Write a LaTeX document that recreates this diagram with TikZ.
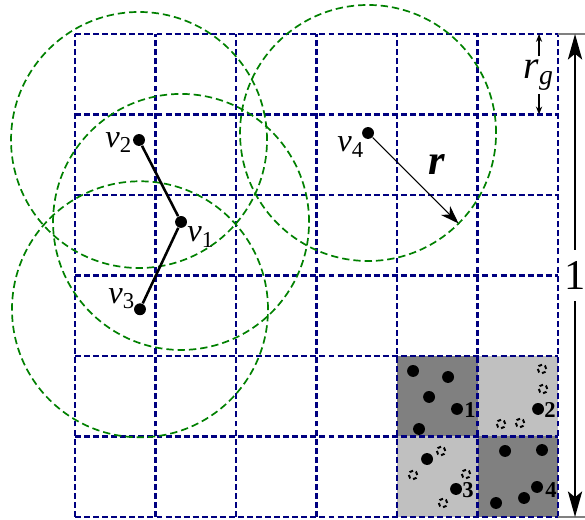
\documentclass[tikz,border=0pt]{standalone}
\usepackage{fontspec}
\setmainfont{Liberation Serif}
\usetikzlibrary{arrows.meta}
\definecolor{GridNavy}{RGB}{0, 0, 128}
\definecolor{RangeGreen}{RGB}{0, 128, 0}
\definecolor{CellDark}{RGB}{128, 128, 128}
\definecolor{CellLight}{RGB}{192, 192, 192}

\begin{document}
\begin{tikzpicture}[
    gridline/.style={GridNavy, line width=0.8pt, dash pattern=on 2.1pt off 1.1pt},
    rangecircle/.style={RangeGreen, line width=0.6pt, dash pattern=on 2.6pt off 1.4pt},
    sensor/.style={circle, fill=black, inner sep=0pt, minimum size=4.2pt},
    ghost/.style={circle, draw=black, line width=0.7pt, dash pattern=on 1.3pt off 1pt, inner sep=0pt, minimum size=3pt},
    link/.style={line width=0.9pt},
    vlabel/.style={font=\fontsize{11.5}{13}\selectfont, inner sep=0pt},
    celllabel/.style={font=\fontsize{8}{9}\selectfont\bfseries, inner sep=0pt},
    dimarrow/.style={-{Stealth[length=2.8pt, width=2.2pt]}, line width=0.4pt},
    bigarrow/.style={-{Stealth[length=9pt, width=5pt, inset=2pt]}, line width=0.9pt},
  ]
  \useasboundingbox (-0.932,-0.037) rectangle (6.335,6.422);

  % Shaded cells
  \fill[CellDark] (4,1) rectangle (5,2);
  \fill[CellLight] (5,1) rectangle (6,2);
  \fill[CellLight] (4,0) rectangle (5,1);
  \fill[CellDark] (5,0) rectangle (6,1);

  % Grid
  \foreach \i in {0,...,6} {
    \draw[gridline] (\i,0) -- (\i,6);
    \draw[gridline] (0,\i) -- (6,\i);
  }

  % Nodes and their ranges
  \node[sensor] (v2) at (0.795,4.683) {};
  \node[sensor] (v1) at (1.317,3.665) {};
  \node[sensor] (v3) at (0.807,2.580) {};
  \node[sensor] (v4) at (3.640,4.770) {};
  \foreach \v in {v1,v2,v3,v4}
    \draw[rangecircle] (\v) circle (1.59);

  \node[vlabel] (l2) at (0.547,4.646) {\textit{v}\textsubscript{2}};
  \node[vlabel] (l1) at (1.565,3.478) {\textit{v}\textsubscript{1}};
  \node[vlabel] (l3) at (0.584,2.708) {\textit{v}\textsubscript{3}};
  \node[vlabel] (l4) at (3.429,4.596) {\textit{v}\textsubscript{4}};

  \draw[link] (v2) -- (v1) -- (v3);

  % Range r
  \path (v4) ++(-45:1.59) coordinate (rend);
  \draw[-{Stealth[length=6.5pt, width=4.5pt, inset=2pt]}, line width=0.4pt] (v4) -- (rend);
  \node[font=\fontsize{15}{18}\selectfont\bfseries\itshape] (rlab) at (4.497,4.373) {r};

  % Cell size r_g
  \coordinate (rgtop) at (5.764,6);
  \coordinate (rgbot) at (5.764,5);
  \node[font=\fontsize{14}{16}\selectfont, inner sep=1pt] (rg) at (5.764,5.49) {\textit{r}\textsubscript{\textit{g}}};
  \draw[dimarrow] (rg) -- (rgtop);
  \draw[dimarrow] (rg) -- (rgbot);

  % Unit side
  \draw[gray, line width=0.5pt] (6,6) -- (6.335,6);
  \draw[gray, line width=0.5pt] (6,0) -- (6.335,0);
  \coordinate (unittop) at (6.211,6);
  \coordinate (unitbot) at (6.211,0);
  \node[font=\fontsize{15}{18}\selectfont, inner sep=4pt] (unit) at (6.211,3) {1};
  \draw[bigarrow] (unit) -- (unittop);
  \draw[bigarrow] (unit) -- (unitbot);

  % Points in the shaded cells
  \foreach \x/\y [count=\k] in {4.199/1.814, 4.634/1.739, 4.398/1.491, 4.745/1.342, 4.273/1.093,
      5.752/1.342, 4.373/0.720, 4.733/0.348,
      5.342/0.820, 5.801/0.832, 5.739/0.373, 5.578/0.236, 5.230/0.174}
    \node[sensor] (p\k) at (\x,\y) {};
  \foreach \x/\y [count=\k] in {5.801/1.839, 5.814/1.590, 5.292/1.155, 5.528/1.168,
      4.547/0.820, 4.199/0.522, 4.857/0.534, 4.571/0.174}
    \node[ghost] (q\k) at (\x,\y) {};

  \node[celllabel] (c1) at (4.907,1.329) {1};
  \node[celllabel] (c2) at (5.901,1.329) {2};
  \node[celllabel] (c3) at (4.882,0.335) {3};
  \node[celllabel] (c4) at (5.913,0.335) {4};
\end{tikzpicture}
\end{document}
